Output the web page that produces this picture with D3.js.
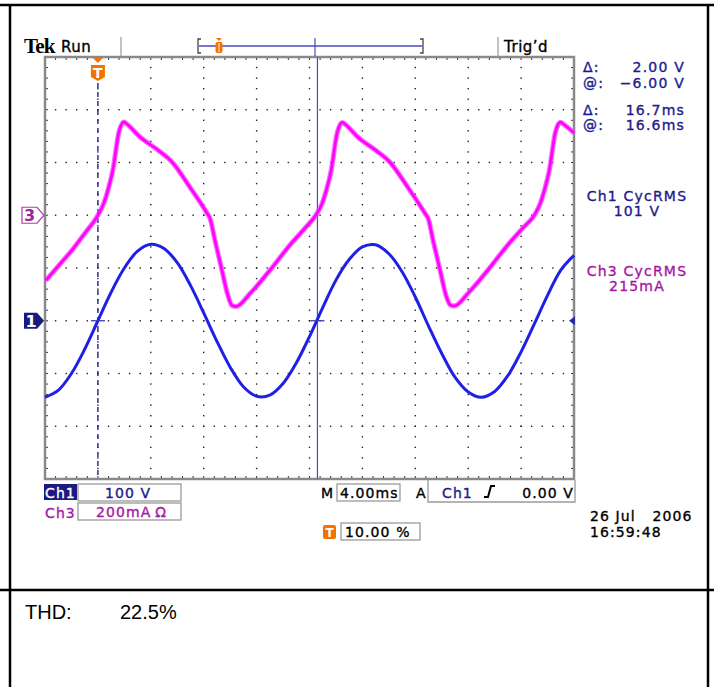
<!DOCTYPE html>
<html>
<head>
<meta charset="utf-8">
<script src="https://cdn.jsdelivr.net/npm/d3@7"></script>
<style>
  body { margin: 0; background: #fff; }
  svg text { font-family: "DejaVu Sans", Verdana, sans-serif; }
  .scr { stroke-width: 0.35px; paint-order: stroke; }
</style>
</head>
<body>
<div id="scope"></div>
<script>
// Ch1 voltage (time ms from trigger, volts)
const ch1Times = [-4,-3,-2,-1,0,1,2,3,4,5,6,7,8,9,10,11,12,13,14,15,16,17,18,19,20,21,22,23,24,25,26,27,28,29,30,31,32,33,34,35,36]
const ch1Volts = [-145,-132,-100,-54,0,54,100,132,145,137,110,67,15,-39,-88,-125,-143,-141,-119,-80,-30,25,77,116,140,144,127,93,45,-10,-62,-107,-135,-145,-134,-104,-59,-6,48,96,124]

// Ch3 current (time ms, mA)
const ch3Times = [-3.93,-2.95,-1.97,-0.98,0,0.45,0.76,1.13,1.59,1.97,2.19,3.18,4.54,5.6,6.96,8.25,8.47,8.85,9.38,9.83,10.14,10.44,11.5,13.0,14.5,15.66,
  16.5,16.95,17.26,17.63,18.09,18.47,18.69,19.68,21.04,22.1,23.46,24.75,24.97,25.35,25.88,26.33,26.64,26.94,28.0,29.5,31.0,32.16,
  33.0,33.45,33.76,34.13,34.59,34.97,35.19,36.0]
const ch3mA = [-247,-190,-133,-68,0,46,95,171,316,354,346,297,247,202,106,8,-11,-95,-209,-304,-342,-346,-297,-209,-114,-49,
  2,44,93,168,312,352,345,295,245,200,104,6,-12,-97,-210,-305,-340,-344,-295,-207,-112,-47,
  0,45,94,170,314,353,346,312]

const timeDomain = [-4, 36]          // 10 div x 4.00 ms, trigger at 10 %
const ch1Domain = [-300, 500]        // 100 V/div, ground 5 div from top
const ch3Domain = [-1000, 600]       // 200 mA/div, ground 3 div from top

const readouts = [
  {lab: 'Δ:', val: '2.00 V', y: 72},
  {lab: '@:', val: '\u22126.00 V', y: 88},
  {lab: 'Δ:', val: '16.7ms', y: 115},
  {lab: '@:', val: '16.6ms', y: 130}
]

const W = 714, H = 687
const plot = {left: 45, right: 574, top: 57, bottom: 479}
const navy = '#1c1c8c', magentaText = '#a418a4', orange = '#f57200'

const svg = d3.select('#scope').append('svg')
  .attr('width', W).attr('height', H)

// page frame
const frame = svg.append('g').attr('stroke', '#000').attr('stroke-width', 2.5)
frame.append('line').attr('x1', 0).attr('x2', W).attr('y1', 5).attr('y2', 5)
frame.append('line').attr('x1', 10).attr('x2', 10).attr('y1', 5).attr('y2', H)
frame.append('line').attr('x1', 708).attr('x2', 708).attr('y1', 5).attr('y2', H)
frame.append('line').attr('x1', 0).attr('x2', W).attr('y1', 590).attr('y2', 590)

svg.append('text').attr('x', 25).attr('y', 619)
  .style('font-family', '"Liberation Sans", Arial, sans-serif')
  .attr('font-size', 20).text('THD:')
svg.append('text').attr('x', 120).attr('y', 619)
  .style('font-family', '"Liberation Sans", Arial, sans-serif')
  .attr('font-size', 20).text('22.5%')

// scales
const x = d3.scaleLinear().domain(timeDomain).range([plot.left, plot.right])
const y1 = d3.scaleLinear().domain(ch1Domain).range([plot.bottom, plot.top])
const y3 = d3.scaleLinear().domain(ch3Domain).range([plot.bottom, plot.top])
const gx = d3.scaleLinear().domain([0, 10]).range([plot.left, plot.right])
const gy = d3.scaleLinear().domain([0, 8]).range([plot.top, plot.bottom])

// graticule
const grid = svg.append('g')
const dots = []
d3.range(1, 10).forEach(i => d3.range(0, 40.01, 1).forEach(j => dots.push([gx(i), gy(j / 5)])))
d3.range(1, 8).forEach(i => d3.range(0, 50.01, 1).forEach(j => dots.push([gx(j / 5), gy(i)])))
grid.selectAll('rect.dot').data(dots).join('rect')
  .attr('class', 'dot')
  .attr('x', d => d[0] - 0.7).attr('y', d => d[1] - 0.7)
  .attr('width', 1.4).attr('height', 1.4).attr('fill', '#222')

// minor ticks along the borders
const tickG = grid.append('g').attr('stroke', '#333').attr('stroke-width', 1)
d3.range(1, 50).forEach(j => {
  const xx = gx(j / 5)
  tickG.append('line').attr('x1', xx).attr('x2', xx).attr('y1', plot.top).attr('y2', plot.top + 3)
  tickG.append('line').attr('x1', xx).attr('x2', xx).attr('y1', plot.bottom - 3).attr('y2', plot.bottom)
})
d3.range(1, 40).forEach(j => {
  const yy = gy(j / 5)
  tickG.append('line').attr('y1', yy).attr('y2', yy).attr('x1', plot.left).attr('x2', plot.left + 3)
  tickG.append('line').attr('y1', yy).attr('y2', yy).attr('x1', plot.right - 3).attr('x2', plot.right)
})

svg.append('rect')
  .attr('x', plot.left).attr('y', plot.top)
  .attr('width', plot.right - plot.left).attr('height', plot.bottom - plot.top)
  .attr('fill', 'none').attr('stroke', '#8a8a8a').attr('stroke-width', 2.5)

// cursors
svg.append('line')
  .attr('x1', x(0)).attr('x2', x(0)).attr('y1', plot.top + 8).attr('y2', plot.bottom)
  .attr('stroke', '#2e2e9a').attr('stroke-width', 1.5).attr('stroke-dasharray', '5,4')
svg.append('line')
  .attr('x1', x(16.6)).attr('x2', x(16.6)).attr('y1', plot.top).attr('y2', plot.bottom)
  .attr('stroke', '#4a4ac8').attr('stroke-width', 1.2)

// waveforms
const ch1Data = ch1Times.map((t, i) => [t, ch1Volts[i]])
const ch3Data = ch3Times.map((t, i) => [t, ch3mA[i]])

const line1 = d3.line().x(d => x(d[0])).y(d => y1(d[1])).curve(d3.curveCatmullRom)
const line3 = d3.line().x(d => x(d[0])).y(d => y3(d[1])).curve(d3.curveMonotoneX)

svg.append('path').attr('d', line3(ch3Data))
  .attr('fill', 'none').attr('stroke', '#f53cf5').attr('stroke-width', 5)
  .attr('stroke-linejoin', 'round').attr('opacity', 0.75)
svg.append('path').attr('d', line3(ch3Data))
  .attr('fill', 'none').attr('stroke', '#ff00ff').attr('stroke-width', 2.6)
svg.append('path').attr('d', line1(ch1Data))
  .attr('fill', 'none').attr('stroke', '#1f1fe6').attr('stroke-width', 3)

// cursor crosshair marks
;[0, 16.6].forEach(t => {
  svg.append('line').attr('x1', x(t) - 7).attr('x2', x(t) + 7)
    .attr('y1', y1(0)).attr('y2', y1(0))
    .attr('stroke', '#3a3ab0').attr('stroke-width', 1.3)
})

// trigger level marker (right)
svg.append('path')
  .attr('d', `M${plot.right - 5},${y1(0)} l6,-4.5 v9 z`)
  .attr('fill', '#2a2aa8')

// channel markers (left)
svg.append('path')
  .attr('d', `M22,${y3(0) - 8} h15 l7,8 l-7,8 h-15 z`)
  .attr('fill', '#fff').attr('stroke', '#b236b2').attr('stroke-width', 1.2)
svg.append('text').attr('x', 29.5).attr('y', y3(0) + 6)
  .attr('text-anchor', 'middle').attr('font-size', 16).attr('font-weight', 'bold')
  .attr('fill', '#a020a0').text('3')
svg.append('path')
  .attr('d', `M24,${y1(0) - 8} h13 l7,8 l-7,8 h-13 z`)
  .attr('fill', '#1a1a80')
svg.append('text').attr('x', 31).attr('y', y1(0) + 6)
  .attr('text-anchor', 'middle').attr('font-size', 16).attr('font-weight', 'bold')
  .attr('fill', '#fff').text('1')

// trigger position marker (top)
const tx = x(0)
svg.append('path').attr('d', `M${tx - 5},${plot.top + 1} h10 l-5,5 z`).attr('fill', orange)
svg.append('path')
  .attr('d', `M${tx - 7},${plot.top + 8} h14 v12 l-7,4 l-7,-4 z`)
  .attr('fill', orange)
svg.append('text').attr('x', tx).attr('y', plot.top + 21)
  .attr('text-anchor', 'middle').attr('font-size', 14).attr('font-weight', 'bold')
  .attr('fill', '#fff').text('T')

// top status bar
svg.append('text').attr('x', 24).attr('y', 53)
  .style('font-family', '"Liberation Serif", "Times New Roman", serif')
  .attr('font-size', 21).attr('font-weight', 'bold').attr('letter-spacing', -0.8).text('Tek')
svg.append('text').attr('x', 61).attr('y', 52).attr('font-size', 15).attr('class', 'scr')
  .attr('stroke', '#000').attr('letter-spacing', 0.5).text('Run')
svg.append('text').attr('x', 504).attr('y', 52).attr('font-size', 15).attr('class', 'scr')
  .attr('stroke', '#000').attr('letter-spacing', 0.5).text('Trig\u2019d')
;[121, 498].forEach(xx => {
  svg.append('line').attr('x1', xx).attr('x2', xx).attr('y1', 37).attr('y2', plot.top)
    .attr('stroke', '#999').attr('stroke-width', 1.2)
})
const rec = svg.append('g')
rec.append('path').attr('d', 'M201,39 h-3 v14 h3').attr('fill', 'none').attr('stroke', '#444').attr('stroke-width', 1.3)
rec.append('path').attr('d', 'M420,39 h3 v14 h-3').attr('fill', 'none').attr('stroke', '#444').attr('stroke-width', 1.3)
rec.append('line').attr('x1', 199).attr('x2', 422).attr('y1', 46).attr('y2', 46).attr('stroke', '#4a4ac0').attr('stroke-width', 1.4)
rec.append('line').attr('x1', 315).attr('x2', 315).attr('y1', 38).attr('y2', 56).attr('stroke', '#4a4ac0').attr('stroke-width', 1.2)
rec.append('path').attr('d', 'M216,38 h6 l-3,3 z').attr('fill', orange)
rec.append('rect').attr('x', 215.5).attr('y', 42).attr('width', 7).attr('height', 11).attr('rx', 2).attr('fill', orange)
rec.append('line').attr('x1', 219).attr('x2', 219).attr('y1', 43).attr('y2', 52).attr('stroke', '#fff').attr('stroke-width', 1)

// right readouts
const ro = svg.append('g').attr('font-size', 14).attr('letter-spacing', 1.2)
  .attr('fill', navy).attr('stroke', navy).attr('class', 'scr')
ro.selectAll('text.lab').data(readouts).join('text').attr('class', 'lab')
  .attr('x', 583).attr('y', d => d.y).text(d => d.lab)
ro.selectAll('text.val').data(readouts).join('text').attr('class', 'val')
  .attr('x', 685).attr('y', d => d.y).attr('text-anchor', 'end').text(d => d.val)

const rms = svg.append('g').attr('font-size', 14).attr('letter-spacing', 1.2)
  .attr('text-anchor', 'middle').attr('class', 'scr')
rms.append('text').attr('x', 637).attr('y', 201).attr('fill', navy).attr('stroke', navy).text('Ch1 CycRMS')
rms.append('text').attr('x', 637).attr('y', 216).attr('fill', navy).attr('stroke', navy).text('101 V')
rms.append('text').attr('x', 637).attr('y', 276).attr('fill', magentaText).attr('stroke', magentaText).text('Ch3 CycRMS')
rms.append('text').attr('x', 637).attr('y', 291).attr('fill', magentaText).attr('stroke', magentaText).text('215mA')

// bottom status
const bs = svg.append('g').attr('font-size', 14).attr('letter-spacing', 1.1).attr('class', 'scr')
const box = (x0, y0, w, h) => bs.append('rect').attr('x', x0).attr('y', y0).attr('width', w).attr('height', h)
  .attr('fill', 'none').attr('stroke', '#9a9a9a').attr('stroke-width', 1.3)
const txt = (x0, y0, col, s) => bs.append('text').attr('x', x0).attr('y', y0)
  .attr('fill', col).attr('stroke', col).text(s)
bs.append('rect').attr('x', 44).attr('y', 484).attr('width', 33).attr('height', 16).attr('fill', '#1a1a80')
txt(45, 498, '#fff', 'Ch1')
box(78, 484, 103, 17)
txt(128, 498, navy, '100 V').attr('text-anchor', 'middle')
txt(45, 518, magentaText, 'Ch3')
box(78, 503, 103, 17)
txt(96, 517, magentaText, '200mA\u2009\u03a9')

txt(321, 498, '#000', 'M')
box(337, 484, 63, 17)
txt(340, 498, '#000', '4.00ms')
txt(416, 498, '#000', 'A')
bs.append('path').attr('d', `M428,${plot.bottom + 1} V502 H575 V${plot.bottom + 1}`)
  .attr('fill', 'none').attr('stroke', '#9a9a9a').attr('stroke-width', 1.3)
txt(442, 498, navy, 'Ch1')
bs.append('path').attr('d', 'M484,497 h4 l3,-11 h4').attr('fill', 'none').attr('stroke', '#000').attr('stroke-width', 2)
txt(574, 498, '#000', '0.00 V').attr('text-anchor', 'end')

bs.append('rect').attr('x', 323).attr('y', 525).attr('width', 13).attr('height', 14).attr('rx', 2).attr('fill', orange)
bs.append('text').attr('x', 329.5).attr('y', 537).attr('text-anchor', 'middle').attr('font-size', 12)
  .attr('font-weight', 'bold').attr('letter-spacing', 0).attr('fill', '#fff').text('T')
box(341, 523, 79, 17)
txt(345, 537, '#000', '10.00 %')

txt(590, 521, '#000', '26 Jul   2006').style('white-space', 'pre')
txt(590, 537, '#000', '16:59:48')
</script>
</body>
</html>
